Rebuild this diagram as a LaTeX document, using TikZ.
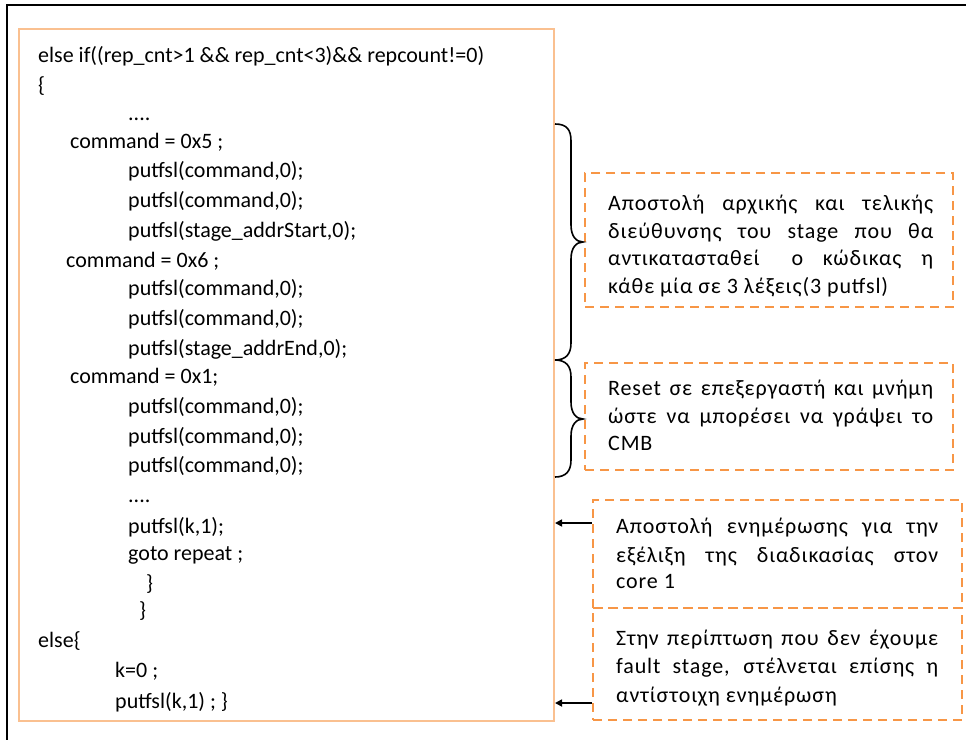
\documentclass[tikz,border=0pt]{standalone}
\usepackage{fontspec}
\setmainfont{Carlito}
\newfontfamily\notefont[LetterSpace=4]{Carlito}
\usetikzlibrary{arrows.meta}
\definecolor{codeframe}{HTML}{FAC090}
\definecolor{noteframe}{HTML}{F79646}
\begin{document}
\begin{tikzpicture}[x=1pt,y=-1pt,
  code/.style={anchor=base west,inner sep=0pt,font=\fontsize{22}{26}\selectfont},
  note/.style={anchor=base west,inner sep=0pt,font=\notefont\fontsize{22}{26}\selectfont},
  notebox/.style={draw=noteframe,line width=2.6pt,dash pattern=on 9pt off 6pt,
    minimum width=368pt,inner sep=0pt},
  bracepath/.style={draw=black,line width=1.6pt},
  arr/.style={draw=black,line width=1.6pt,-{Triangle[length=7pt,width=7pt]}}]
\useasboundingbox (0,0) rectangle (966,739);
% outer frame
\draw[line width=2pt] (7,745) -- (7,5) -- (975,5);
% code listing frame
\node[draw=codeframe,line width=2pt,minimum width=535pt,minimum height=692pt,inner sep=0pt]
  (code) at (286.5,375) {};
% code lines
\node[code] (c1)  at (38,62)  {else if((rep\_cnt>1 \&\& rep\_cnt<3)\&\& repcount!=0)};
\node[code] (c2)  at (38,92)  {\{};
\node[code] (c3)  at (128,120) {....};
\node[code] (c4)  at (70,148) {command = 0x5 ;};
\node[code] (c5)  at (128,177) {putfsl(command,0);};
\node[code] (c6)  at (128,207) {putfsl(command,0);};
\node[code] (c7)  at (128,237) {putfsl(stage\_addrStart,0);};
\node[code] (c8)  at (66,267) {command = 0x6 ;};
\node[code] (c9)  at (128,295) {putfsl(command,0);};
\node[code] (c10) at (128,325) {putfsl(command,0);};
\node[code] (c11) at (128,355) {putfsl(stage\_addrEnd,0);};
\node[code] (c12) at (70,383) {command = 0x1;};
\node[code] (c13) at (128,413) {putfsl(command,0);};
\node[code] (c14) at (128,443) {putfsl(command,0);};
\node[code] (c15) at (128,472) {putfsl(command,0);};
\node[code] (c16) at (128,502) {....};
\node[code] (c17) at (128,533) {putfsl(k,1);};
\node[code] (c18) at (128,560) {goto repeat ;};
\node[code] (c19) at (146,590) {\}};
\node[code] (c20) at (139,617) {\}};
\node[code] (c21) at (38,647) {else\{};
\node[code] (c22) at (115,677) {k=0 ;};
\node[code] (c23) at (115,708) {putfsl(k,1) ; \}};
% note frames
\node[notebox,minimum height=134pt] (n1) at (769,240) {};
\node[notebox,minimum height=107pt] (n2) at (769,416.5) {};
\node[notebox,minimum width=369pt,minimum height=108pt] (n3) at (777.5,554) {};
\node[notebox,minimum width=369pt,minimum height=112pt] (n4) at (777.5,664) {};
% note texts
\node[note] (t11) at (608,210) {\makebox[325pt][s]{Αποστολή αρχικής και τελικής}};
\node[note] (t12) at (608,238) {\makebox[325pt][s]{διεύθυνσης του stage που θα}};
\node[note] (t13) at (608,265) {\makebox[325pt][s]{αντικατασταθεί\hspace{12pt} ο κώδικας η}};
\node[note] (t14) at (608,293) {κάθε μία σε 3 λέξεις(3 putfsl)};
\node[note] (t21) at (608,395) {\makebox[325pt][s]{Reset σε επεξεργαστή και μνήμη}};
\node[note] (t22) at (608,423) {\makebox[325pt][s]{ώστε να μπορέσει να γράψει το}};
\node[note] (t23) at (608,450) {CMB};
\node[note] (t31) at (616,533) {\makebox[322pt][s]{Αποστολή ενημέρωσης για την}};
\node[note] (t32) at (616,562) {\makebox[322pt][s]{εξέλιξη της διαδικασίας στον}};
\node[note] (t33) at (616,588) {core 1};
\node[note] (t41) at (616,645) {\makebox[322pt][s]{Στην περίπτωση που δεν έχουμε}};
\node[note] (t42) at (616,673) {\makebox[322pt][s]{fault stage, στέλνεται επίσης η}};
\node[note] (t43) at (616,702) {αντίστοιχη ενημέρωση};
% braces grouping the command blocks
\coordinate (b1top) at (code.east |- 0,124);
\coordinate (b1bot) at (code.east |- 0,360);
\coordinate (b2bot) at (code.east |- 0,477);
\path[bracepath] (b1top)
  .. controls ++(12,0) and (571,130) .. (571,141) -- (571,225)
  .. controls (571,236) and (576,242) .. (583,242)
  .. controls (576,242) and (571,248) .. (571,259) -- (571,343)
  .. controls (571,354) and (566,360) .. (b1bot);
\path[bracepath] (b1bot)
  .. controls (566,360) and (571,366) .. (571,377) -- (571,402)
  .. controls (571,413) and (576,419) .. (583,419)
  .. controls (576,419) and (571,425) .. (571,436) -- (571,460)
  .. controls (571,471) and (566,477) .. (b2bot);
% arrows from the notes to the code
\coordinate (a1) at (0,523);
\coordinate (a2) at (0,703);
\draw[arr] (n3.west |- a1) -- (code.east |- a1);
\draw[arr] (n4.west |- a2) -- (code.east |- a2);
\end{tikzpicture}
\end{document}
